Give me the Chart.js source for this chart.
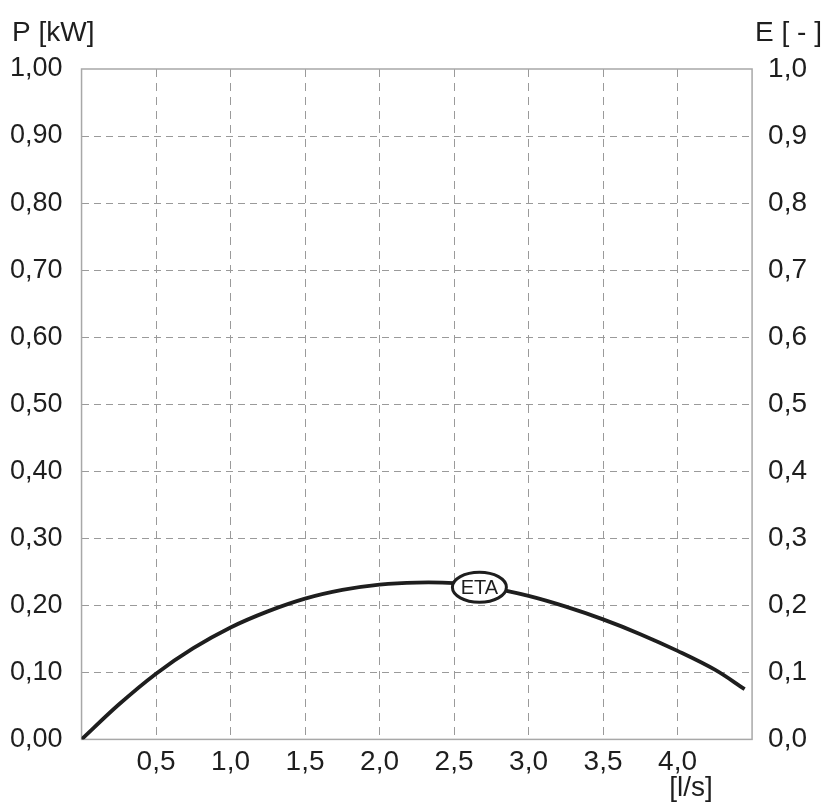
<!DOCTYPE html>
<html>
<head>
<meta charset="utf-8">
<script src="https://cdn.jsdelivr.net/npm/chart.js@4.4.1/dist/chart.umd.min.js"></script>
<style>
  html, body { margin: 0; padding: 0; background: #fff; }
  #wrap { width: 825px; height: 805px; }
</style>
</head>
<body>
<div id="wrap"><canvas id="etaChart"></canvas></div>
<script>
// debit [l/s] et rendement ETA
const flow = [0, 0.25, 0.5, 0.75, 1.0, 1.25, 1.5, 1.75, 2.0, 2.25, 2.5, 2.75, 3.0, 3.25, 3.5, 3.75, 4.0, 4.25, 4.45];
const eta  = [0, 0.052, 0.098, 0.136, 0.167, 0.191, 0.210, 0.223, 0.231, 0.234, 0.233, 0.226, 0.214, 0.198, 0.179, 0.157, 0.132, 0.104, 0.075];

const xTickLabels = ['0,5', '1,0', '1,5', '2,0', '2,5', '3,0', '3,5', '4,0'];
const pTickLabels = ['0,00', '0,10', '0,20', '0,30', '0,40', '0,50', '0,60', '0,70', '0,80', '0,90', '1,00'];
const eTickLabels = ['0,0', '0,1', '0,2', '0,3', '0,4', '0,5', '0,6', '0,7', '0,8', '0,9', '1,0'];

const etaLabel = { text: 'ETA', x: 2.67, y: 0.227 };

const ink = '#1e1e1e';
const gridCol = '#9a9a9a';
const font = 'Liberation Sans, Arial, sans-serif';

// cache les lignes de grille sur le cadre
function edgeHidden(min, max) {
  return function (c) {
    const v = c.tick.value;
    if (Math.abs(v - min) < 1e-6 || Math.abs(v - max) < 1e-6) return 'rgba(0,0,0,0)';
    return gridCol;
  };
}

const decor = {
  id: 'decor',
  beforeDatasetsDraw(chart) {
    const a = chart.chartArea, c = chart.ctx;
    c.save();
    c.strokeStyle = '#a8a8a8';
    c.lineWidth = 1.5;
    c.strokeRect(a.left, a.top, a.right - a.left, a.bottom - a.top);
    c.restore();
  },
  afterDatasetsDraw(chart) {
    const c = chart.ctx;
    const xs = chart.scales.x, ys = chart.scales.yE;
    c.save();
    // etiquette ETA
    const cx = xs.getPixelForValue(etaLabel.x), cy = ys.getPixelForValue(etaLabel.y);
    c.beginPath();
    c.ellipse(cx, cy, 27, 15, 0, 0, Math.PI * 2);
    c.fillStyle = '#fff';
    c.fill();
    c.lineWidth = 3;
    c.strokeStyle = ink;
    c.stroke();
    c.fillStyle = ink;
    c.font = '20px ' + font;
    c.textAlign = 'center';
    c.textBaseline = 'middle';
    c.fillText(etaLabel.text, cx, cy + 1);
    // titres des axes
    c.font = '28px ' + font;
    c.textBaseline = 'alphabetic';
    c.textAlign = 'left';
    c.fillText('P [kW]', 12, 41);
    c.textAlign = 'right';
    c.fillText('E [ - ]', 822, 41);
    c.textAlign = 'center';
    c.fillText('[l/s]', 691, 796);
    c.restore();
  }
};

new Chart(document.getElementById('etaChart'), {
  type: 'line',
  data: {
    datasets: [{
      label: 'ETA',
      data: flow.map((q, i) => ({ x: q, y: eta[i] })),
      yAxisID: 'yE',
      borderColor: ink,
      borderWidth: 3.8,
      pointRadius: 0,
      tension: 0.35,
      fill: false
    }, {
      // axe P sans courbe, pour afficher l'echelle de gauche
      label: 'P',
      data: [],
      yAxisID: 'yP'
    }]
  },
  options: {
    responsive: true,
    maintainAspectRatio: false,
    animation: false,
    layout: { padding: { left: -9, right: 2, top: 69, bottom: 20 } },
    plugins: { legend: { display: false }, tooltip: { enabled: false } },
    scales: {
      x: {
        type: 'linear',
        min: 0,
        max: 4.5,
        border: { display: false, dash: [8, 6] },
        grid: { color: edgeHidden(0, 4.5), lineWidth: 1, drawTicks: false },
        ticks: {
          stepSize: 0.5,
          padding: 6,
          color: ink,
          font: { family: font, size: 28 },
          maxRotation: 0,
          autoSkip: false,
          callback: function (v) {
            const i = Math.round(v / 0.5) - 1;
            return (i >= 0 && i < xTickLabels.length) ? xTickLabels[i] : '';
          }
        }
      },
      yP: {
        position: 'left',
        min: 0,
        max: 1,
        border: { display: false, dash: [7, 5] },
        grid: { color: edgeHidden(0, 1), lineWidth: 1, drawTicks: false },
        ticks: {
          stepSize: 0.1,
          padding: 19,
          color: ink,
          font: { family: font, size: 27 },
          callback: function (v) { return pTickLabels[Math.round(v * 10)]; }
        }
      },
      yE: {
        position: 'right',
        min: 0,
        max: 1,
        border: { display: false },
        grid: { display: false, drawTicks: false },
        ticks: {
          stepSize: 0.1,
          padding: 16,
          color: ink,
          font: { family: font, size: 28 },
          callback: function (v) { return eTickLabels[Math.round(v * 10)]; }
        }
      }
    }
  },
  plugins: [decor]
});
</script>
</body>
</html>
